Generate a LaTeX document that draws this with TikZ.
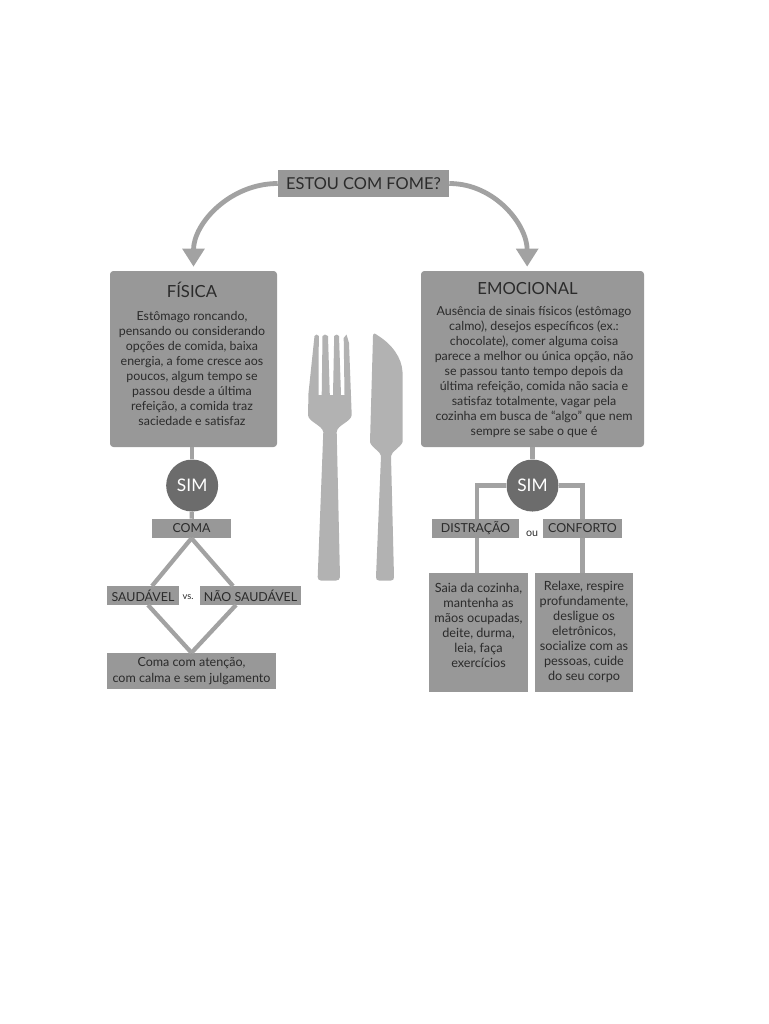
\documentclass[tikz,border=0pt]{standalone}
\usepackage{fontspec}
\setmainfont{Lato}
\usetikzlibrary{arrows.meta, positioning}
\definecolor{boxgray}{HTML}{989898}
\definecolor{linegray}{HTML}{A2A2A2}
\definecolor{cutlerygray}{HTML}{B2B2B2}
\definecolor{simgray}{HTML}{6C6C6C}
\definecolor{inkgray}{HTML}{2B2B2B}
\tikzstyle{arrow} = [-{Triangle[length=13.5pt, width=16pt]}, line width=3.6pt, color=linegray, shorten >=3pt]
\tikzstyle{link} = [line width=3.2pt, color=linegray]

\begin{document}
\begin{tikzpicture}[x=0.75pt, y=-0.75pt, node distance=14pt,
    every node/.style={align=center, inner sep=0pt, text=inkgray},
    mainbox/.style={rectangle, rounded corners=2.5pt, fill=boxgray, minimum height=132pt},
    tagbox/.style={rectangle, fill=boxgray, minimum height=14.25pt, font=\fontsize{9.3}{11}\selectfont},
    tipbox/.style={rectangle, fill=boxgray, minimum width=74pt, minimum height=89.25pt},
    boxtitle/.style={font=\fontsize{12.5}{15}\selectfont},
    boxtext/.style={font=\fontsize{9.3}{11.25}\selectfont},
    simnode/.style={circle, fill=simgray, minimum size=39pt, text=white, font=\fontsize{13}{15}\selectfont}
  ]
    \useasboundingbox (0,0) rectangle (768,1024);

    % top of the chart
    \node[rectangle, fill=boxgray, minimum width=128.25pt, minimum height=20.25pt, font=\fontsize{12.3}{15}\selectfont] (fome) at (363.5,183.5) {ESTOU COM FOME?};
    \node[mainbox, minimum width=125.25pt] (fisica) at (193.5,359) {};
    \node[mainbox, minimum width=167.25pt] (emocional) at (532.5,359) {};
    \node[boxtitle] (fisicatitle) at (192,290) {FÍSICA};
    \node[boxtitle] (emocionaltitle) at (527.5,289) {EMOCIONAL};
    \node[boxtext] (fisicatext) at (192,368.5) {Estômago roncando,\\pensando ou considerando\\opções de comida, baixa\\energia, a fome cresce aos\\poucos, algum tempo se\\passou desde a última\\refeição, a comida traz\\saciedade e satisfaz};
    \node[boxtext] (emocionaltext) at (534,372) {Ausência de sinais físicos (estômago\\calmo), desejos específicos (ex.:\\chocolate), comer alguma coisa\\parece a melhor ou única opção, não\\se passou tanto tempo depois da\\última refeição, comida não sacia e\\satisfaz totalmente, vagar pela\\cozinha em busca de “algo” que nem\\sempre se sabe o que é};

    % left side
    \node[simnode, below=9pt of fisica, xshift=-1pt] (simfisica) {SIM};
    \node[tagbox, minimum width=59.25pt] (coma) at (191.5,528.5) {COMA};
    \node[tagbox, minimum width=54pt] (saudavel) at (143,595.5) {SAUDÁVEL};
    \node[tagbox, minimum width=75.75pt] (naosaudavel) at (250.5,595.5) {NÃO SAUDÁVEL};
    \node[font=\fontsize{7}{8}\selectfont] (vs) at (188,597) {vs.};
    \node[rectangle, fill=boxgray, minimum width=126.75pt, minimum height=27pt, font=\fontsize{9.4}{12.5}\selectfont] (atencao) at (191.5,671) {Coma com atenção,\\com calma e sem julgamento};
    \coordinate (saudaveltop) at (152,586);
    \coordinate (saudavelbase) at (148,605);
    \coordinate (naotop) at (233,586);
    \coordinate (naobase) at (236,605);

    % right side
    \node[simnode, below=9pt of emocional] (simemocional) {SIM};
    \node[tagbox, minimum width=65.25pt] (distracao) at (475.5,528.5) {DISTRAÇÃO};
    \node[tagbox, minimum width=59.25pt] (conforto) at (582.5,528.5) {CONFORTO};
    \node[font=\fontsize{8}{9}\selectfont] (ou) at (532,534) {ou};
    \node[tipbox] (saia) at (478.5,632.5) {};
    \node[tipbox] (relaxe) at (584,632.5) {};
    \node[boxtext, font=\fontsize{9.5}{11.25}\selectfont] (saiatext) at (478.5,625) {Saia da cozinha,\\mantenha as\\mãos ocupadas,\\deite, durma,\\leia, faça\\exercícios};
    \node[boxtext, font=\fontsize{9.5}{11.25}\selectfont] (relaxetext) at (584,632) {Relaxe, respire\\profundamente,\\desligue os\\eletrônicos,\\socialize com as\\pessoas, cuide\\do seu corpo};
    \coordinate (distracaoline) at (477,519);
    \coordinate (distracaofoot) at (477,538);
    \coordinate (saiahead) at (477,573);

    % fork and knife
    \fill[cutlerygray] (308,415) -- (308.5,393) -- (314.5,336) -- (316.5,334.5) -- (318.8,336) -- (318.5,395) -- (321.7,395) -- (322.5,336) -- (325,334.5) -- (328,336) -- (329.8,395) -- (333,395) -- (334.2,336) -- (336.7,334.5) -- (339,336) -- (341,395) -- (344.5,395) -- (343.7,338) -- (346.5,334.5) -- (349,343) -- (351.7,415) .. controls (351,422) and (337,425) .. (336.7,432) -- (340,577) .. controls (340,579.5) and (338,580.5) .. (336,580.5) -- (321,580.5) .. controls (319,580.5) and (317.7,579.5) .. (317.7,577) -- (323.3,432) .. controls (322,425) and (308.5,422) .. (308,415) -- cycle;
    \fill[cutlerygray] (373,336) .. controls (373,333) and (375,333) .. (377,335) .. controls (392,344) and (402,358) .. (402.5,372) -- (402.5,442) .. controls (401,447) and (391,452) .. (391,456) -- (394,577) .. controls (394,579.5) and (393,580.5) .. (391,580.5) -- (379,580.5) .. controls (377,580.5) and (376,579.5) .. (376,577) -- (381,456) .. controls (381,452) and (371,447) .. (370,442) -- cycle;

    % connectors
    \draw[arrow] (fome.west) to[out=180, in=90] (fisica.north);
    \draw[arrow] (fome.east) to[out=0, in=90] ([xshift=-4pt]emocional.north);
    \draw[link] (simfisica |- fisica.south) -- (simfisica);
    \draw[link] (simfisica) -- (coma);
    \draw[link] (coma.south) -- (saudaveltop);
    \draw[link] (coma.south) -- (naotop);
    \draw[link] (saudavelbase) -- (atencao.north);
    \draw[link] (naobase) -- (atencao.north);
    \draw[link] (emocional.south) -- (simemocional);
    \draw[link] (simemocional.west) -| (distracaoline);
    \draw[link] (simemocional.east) -| (conforto.north);
    \draw[link] (distracaofoot) -- (saiahead);
    \draw[link] (conforto.south) -- (relaxe.north -| conforto);
  \end{tikzpicture}
\end{document}
